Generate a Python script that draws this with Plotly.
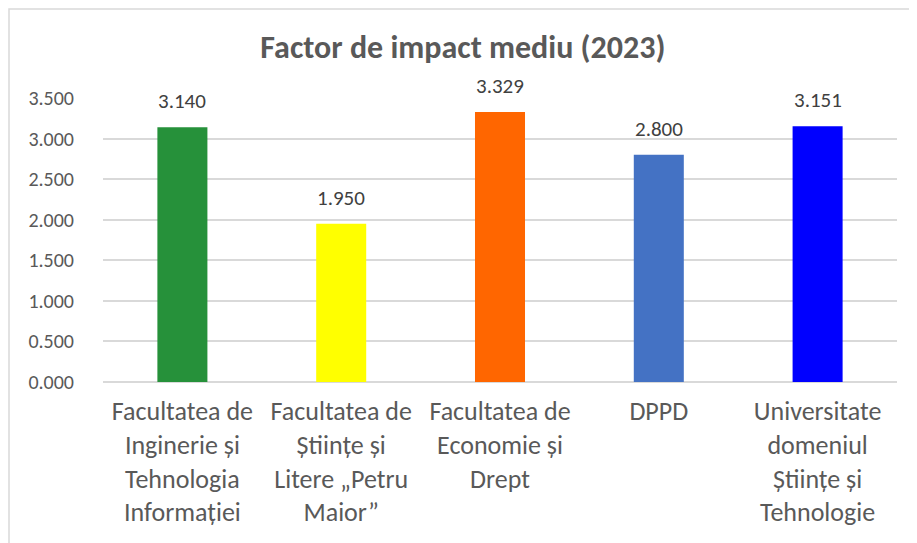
import plotly.graph_objects as go

categories = [
    "Facultatea de<br>Inginerie și<br>Tehnologia<br>Informației",
    "Facultatea de<br>Științe și<br>Litere „Petru<br>Maior”",
    "Facultatea de<br>Economie și<br>Drept",
    "DPPD",
    "Universitate<br>domeniul<br>Științe și<br>Tehnologie",
]
values = [3.140, 1.950, 3.329, 2.800, 3.151]
colors = ["#26913A", "#FFFF00", "#FF6600", "#4472C4", "#0000FF"]
tick_vals = [0, 0.5, 1.0, 1.5, 2.0, 2.5, 3.0, 3.5]
title_text = "Factor de impact mediu (2023)"

FONT = "Calibri, Carlito, Lato, 'Open Sans', sans-serif"

fig = go.Figure(
    go.Bar(
        x=categories,
        y=values,
        marker=dict(color=colors, line=dict(width=0)),
        cliponaxis=False,
        hovertemplate="%{y:.3f}<extra></extra>",
    )
)

for c, v in zip(categories, values):
    fig.add_annotation(
        x=c,
        y=v,
        text=f"{v:.3f}",
        showarrow=False,
        yanchor="bottom",
        yshift=11,
        font=dict(family=FONT, size=21, color="#404040"),
    )

fig.update_layout(
    width=917,
    height=543,
    margin=dict(l=95, r=28, t=90, b=169),
    paper_bgcolor="white",
    plot_bgcolor="white",
    bargap=0.685,
    showlegend=False,
    title=dict(
        text="<b>" + title_text + "</b>",
        x=0.496,
        xref="container",
        xanchor="center",
        y=0.928,
        yref="container",
        yanchor="middle",
        font=dict(family=FONT, size=32, color="#595959"),
    ),
    font=dict(family=FONT, color="#595959"),
    xaxis=dict(
        showgrid=False,
        showline=False,
        ticks="",
        tickfont=dict(family=FONT, size=26, color="#595959"),
        ticklabelstandoff=11,
        tickangle=0,
    ),
    yaxis=dict(
        range=[0, 3.5],
        tickvals=tick_vals,
        tickformat=".3f",
        showgrid=True,
        gridcolor="#D9D9D9",
        gridwidth=1.5,
        zeroline=True,
        zerolinecolor="#D9D9D9",
        zerolinewidth=1.5,
        showline=False,
        ticks="",
        ticklabelstandoff=28,
        tickfont=dict(family=FONT, size=20, color="#595959"),
    ),
    shapes=[
        dict(
            type="rect",
            xref="paper",
            yref="paper",
            x0=-94.0 / 794,
            x1=1.1,
            y0=-0.8,
            y1=1 + 89.0 / 284,
            line=dict(color="#D9D9D9", width=1.5),
            fillcolor="rgba(0,0,0,0)",
            layer="below",
        )
    ],
)

fig.write_html("out.html")
